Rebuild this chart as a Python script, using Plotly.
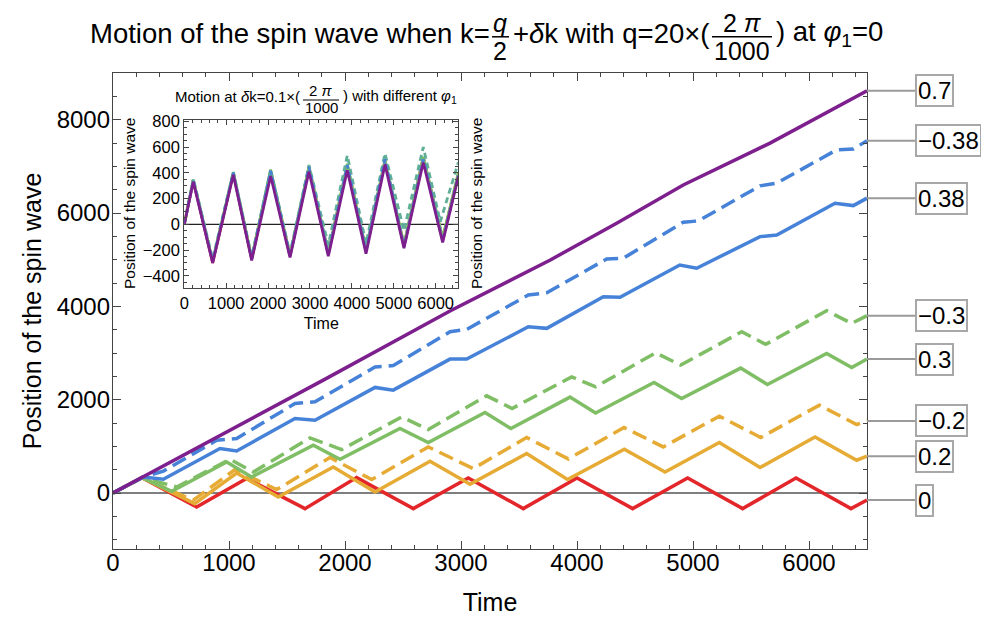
import plotly.graph_objects as go

# ---------------- main plot data ----------------
t_d00 = [0, 250, 721, 1152, 1655, 2100, 2589, 3063, 3537, 4000, 4480, 4954, 5428, 5888, 6362, 6500]
y_d00 = [0, 330, -300, 310, -335, 330, -335, 322, -335, 322, -335, 322, -335, 322, -335, -150]

t_d02 = [0, 250, 704, 1066, 1425, 1899, 2259, 2733, 3078, 3566, 3918, 4408, 4759, 5227, 5578, 6052, 6411, 6500]
y_d02 = [0, 330, -228, 429, -86, 558, 21, 680, 187, 845, 290, 938, 450, 1082, 545, 1202, 702, 788]

t_dm02 = [0, 250, 690, 1052, 1411, 1871, 2230, 2718, 3106, 3566, 3925, 4405, 4744, 5227, 5584, 6089, 6411, 6500]
y_dm02 = [0, 330, -157, 502, 73, 760, 288, 987, 523, 1189, 730, 1403, 987, 1646, 1189, 1882, 1468, 1545]

t_d03 = [0, 250, 506, 980, 1195, 1727, 1957, 2474, 2718, 3207, 3430, 3940, 4160, 4664, 4902, 5411, 5641, 6152, 6368, 6500]
y_d03 = [0, 330, 36, 666, 343, 1024, 723, 1382, 1082, 1725, 1382, 2055, 1715, 2369, 2026, 2676, 2326, 2991, 2691, 2869]

t_dm03 = [0, 250, 549, 1008, 1210, 1698, 1971, 2489, 2718, 3221, 3440, 3954, 4161, 4678, 4894, 5420, 5627, 6152, 6368, 6500]
y_dm03 = [0, 330, 129, 723, 450, 1180, 931, 1631, 1360, 2082, 1811, 2489, 2275, 3004, 2740, 3455, 3185, 3906, 3635, 3800]

t_d038 = [0, 261, 434, 922, 1066, 1569, 1741, 2259, 2416, 2905, 3049, 3580, 3739, 4227, 4371, 4886, 5032, 5578, 5722, 6224, 6382, 6500]
y_d038 = [0, 343, 294, 953, 901, 1597, 1560, 2262, 2204, 2869, 2869, 3562, 3528, 4206, 4193, 4886, 4816, 5494, 5530, 6210, 6159, 6318]

t_dm038 = [0, 261, 434, 894, 1066, 1569, 1741, 2259, 2416, 2905, 3049, 3580, 3739, 4256, 4400, 4916, 5046, 5578, 5722, 6239, 6382, 6500]
y_dm038 = [0, 343, 470, 1131, 1167, 1918, 1953, 2700, 2730, 3455, 3506, 4242, 4290, 5015, 5030, 5803, 5830, 6582, 6640, 7354, 7369, 7550]

t_d07 = [0, 1813, 2905, 3770, 4342, 4916, 5664, 6500]
y_d07 = [0, 2418, 3900, 4993, 5781, 6600, 7498, 8620]

labels = ["0", "0.2", "\u22120.2", "0.3", "\u22120.3", "0.38", "\u22120.38", "0.7"]

# ---------------- inset data ----------------
t_in = [0, 215, 677, 1170, 1608, 2061, 2523, 2976, 3437, 3890, 4337, 4790, 5243, 5704, 6167, 6540]
y_in_red = [0, 340, -300, 395, -270, 410, -245, 440, -230, 455, -205, 490, -165, 520, -115, 390]
y_in_orange = [0, 350, -290, 400, -265, 420, -240, 445, -225, 460, -200, 495, -160, 510, -110, 395]
y_in_green = [0, 345, -285, 405, -260, 425, -240, 450, -220, 470, -195, 500, -155, 525, -105, 400]
t_in_teal = [0, 215, 677, 1170, 1608, 2061, 2523, 2976, 3437, 3890, 4337, 4790, 5243, 5704, 6110, 6540]
y_in_teal = [0, 355, -270, 410, -255, 425, -225, 460, -160, 535, -150, 550, -50, 600, 20, 480]
y_in_blue = [0, 340, -290, 400, -270, 415, -250, 445, -235, 460, -210, 505, -175, 505, -130, 380]
y_in_purple = [0, 330, -300, 385, -280, 375, -258, 410, -248, 420, -228, 465, -185, 480, -140, 370]

# ---------------- styles ----------------
C_RED = "#E3262A"
C_ORANGE = "#E6AB34"
C_GREEN = "#80BE66"
C_BLUE = "#4682D8"
C_PURPLE = "#7D1F8D"
C_TEAL = "#5FAE98"
DASH = "15px,7px"

# The page body adds an 8px offset; the figure is sized so the plot lands on the reference pixels.
OFF = 8
W, H = 989 - OFF, 620 - OFF
L, R, T, B = 113, 867, 73, 549   # main plot area in reference pixels
PW, PH = R - L, B - T

def px(x):
    return (x - L) / PW

def py(y):
    return (B - y) / PH

fig = go.Figure()

main_series = [
    (t_d00, y_d00, C_RED, "solid"),
    (t_d02, y_d02, C_ORANGE, "solid"),
    (t_dm02, y_dm02, C_ORANGE, DASH),
    (t_d03, y_d03, C_GREEN, "solid"),
    (t_dm03, y_dm03, C_GREEN, DASH),
    (t_d038, y_d038, C_BLUE, "solid"),
    (t_dm038, y_dm038, C_BLUE, DASH),
    (t_d07, y_d07, C_PURPLE, "solid"),
]
for tt, yy, c, d in main_series:
    fig.add_trace(go.Scatter(x=tt, y=yy, mode="lines", line=dict(color=c, width=3.5, dash=d),
                             showlegend=False, hoverinfo="skip", xaxis="x", yaxis="y"))

inset_series = [
    (t_in, y_in_red, C_RED, "solid"),
    (t_in, y_in_orange, C_ORANGE, "dot"),
    (t_in, y_in_green, C_GREEN, "solid"),
    (t_in_teal, y_in_teal, C_TEAL, "6px,4px"),
    (t_in, y_in_blue, C_BLUE, "6px,3px"),
    (t_in, y_in_purple, C_PURPLE, "solid"),
]
for tt, yy, c, d in inset_series:
    fig.add_trace(go.Scatter(x=tt, y=yy, mode="lines", line=dict(color=c, width=2.8, dash=d),
                             showlegend=False, hoverinfo="skip", xaxis="x2", yaxis="y2"))

# zero lines
shapes = [
    dict(type="line", xref="x", yref="y", x0=0, x1=6500, y0=0, y1=0,
         line=dict(color="#555555", width=1.5), layer="below"),
    dict(type="line", xref="x2", yref="y2", x0=0, x1=6540, y0=0, y1=0,
         line=dict(color="#222222", width=1.2), layer="below"),
]

annotations = []
# callouts
ends = [y_d00[-1], y_d02[-1], y_dm02[-1], y_d03[-1], y_dm03[-1], y_d038[-1], y_dm038[-1], y_d07[-1]]
for lab, yv in zip(labels, ends):
    shapes.append(dict(type="line", xref="paper", yref="y", x0=1.0, x1=px(915), y0=yv, y1=yv,
                       line=dict(color="#9a9a9a", width=2)))
    annotations.append(dict(xref="paper", yref="y", x=px(915), y=yv, xanchor="left", yanchor="middle",
                            text=lab, showarrow=False, font=dict(size=24, color="black"),
                            bordercolor="#a8a8a8", borderwidth=2, borderpad=1, bgcolor="white"))

def txt(x, y, s, size, xanchor="left", angle=0, pad=1):
    annotations.append(dict(xref="paper", yref="paper", x=px(x), y=py(y), xanchor=xanchor,
                            yanchor="middle", text=s, showarrow=False, textangle=angle, borderpad=pad,
                            font=dict(size=size, color="black")))

def hline(x0, x1, y, w=1.5):
    shapes.append(dict(type="line", xref="paper", yref="paper", x0=px(x0), x1=px(x1),
                       y0=py(y), y1=py(y), line=dict(color="black", width=w)))

# ---- main title pieces ----
FS = 27.5        # running text
FF = 25          # fraction parts
YM = 33          # main text line
YN = 22.8        # numerators
YL = 36.8        # fraction bars
YD = 51.0        # denominators
txt(88, YM, "Motion of the spin wave when k=", FS)
xq = 492
txt(xq + 8.5, YN, "<i>q</i>", FF, "center", pad=0)
hline(xq, xq + 17, YL)
txt(xq + 8.5, YD, "2", FF, "center", pad=0)
xb = xq + 19
txt(xb, YM, "+<i>\u03b4</i>k with q=20\u00d7(", FS)
xf = xb + 201
txt(xf + 30, YN, "2 <i>\u03c0</i>", FF, "center", pad=0)
hline(xf, xf + 60, YL)
txt(xf + 30, YD, "1000", FF, "center", pad=0)
txt(xf + 62, YM, ") at <i>\u03c6</i><sub>1</sub>=0", FS)

# ---- inset title pieces ----
FI = 15
txt(173, 96, "Motion at <i>\u03b4</i>k=0.1\u00d7(", FI)
xf2 = 173 + 130
txt(xf2 + 18, 90, "2 <i>\u03c0</i>", FI, "center", pad=0)
hline(xf2, xf2 + 36, 100, 1.2)
txt(xf2 + 18, 108, "1000", FI, "center", pad=0)
txt(xf2 + 38, 96, ") with different <i>\u03c6</i><sub>1</sub>", FI)

# inset axis labels (left and right)
txt(129, 204, "Position of the spin wave", 15.5, "center", -90)
txt(476, 204, "Position of the spin wave", 15.5, "center", -90)

axis_common = dict(showline=True, linecolor="#444444", linewidth=1.3, mirror="ticks", ticks="inside",
                   tickcolor="#444444", showgrid=False, zeroline=False, automargin=False)

fig.update_layout(
    width=W, height=H,
    margin=dict(l=L - OFF, r=W - (R - OFF), t=T - OFF, b=H - (B - OFF)),
    paper_bgcolor="white", plot_bgcolor="white",
    font=dict(family="Liberation Sans, Arial, sans-serif", color="black"),
    xaxis=dict(range=[0, 6500], tickvals=[0, 1000, 2000, 3000, 4000, 5000, 6000], ticklen=8, tickwidth=1.2,
               minor=dict(dtick=200, ticklen=4, tickcolor="#444444", ticks="inside"),
               tickfont=dict(size=24), ticklabelstandoff=-8,
               title=dict(text="Time", font=dict(size=25), standoff=18),
               domain=[0, 1], anchor="y", **axis_common),
    yaxis=dict(range=[-1200, 9000], tickvals=[0, 2000, 4000, 6000, 8000], ticklen=8, tickwidth=1.2,
               minor=dict(dtick=500, ticklen=4, tickcolor="#444444", ticks="inside"),
               tickfont=dict(size=24), ticklabelstandoff=-3,
               title=dict(text="Position of the spin wave", font=dict(size=25), standoff=7),
               domain=[0, 1], anchor="x", **axis_common),
    xaxis2=dict(range=[0, 6540], tickvals=[0, 1000, 2000, 3000, 4000, 5000, 6000], ticklen=5,
                minor=dict(dtick=200, ticklen=3, tickcolor="#444444", ticks="inside"),
                tickfont=dict(size=16.5), title=dict(text="Time", font=dict(size=16), standoff=6),
                domain=[px(184.3), px(458.3)], anchor="y2", **axis_common),
    yaxis2=dict(range=[-497, 810], tickvals=[-400, -200, 0, 200, 400, 600, 800], ticklen=5,
                minor=dict(dtick=50, ticklen=3, tickcolor="#444444", ticks="inside"),
                tickfont=dict(size=16.5),
                domain=[py(288.3), py(120)], anchor="x2", **axis_common),
    shapes=shapes,
    annotations=annotations,
)

fig.write_html("out.html")
